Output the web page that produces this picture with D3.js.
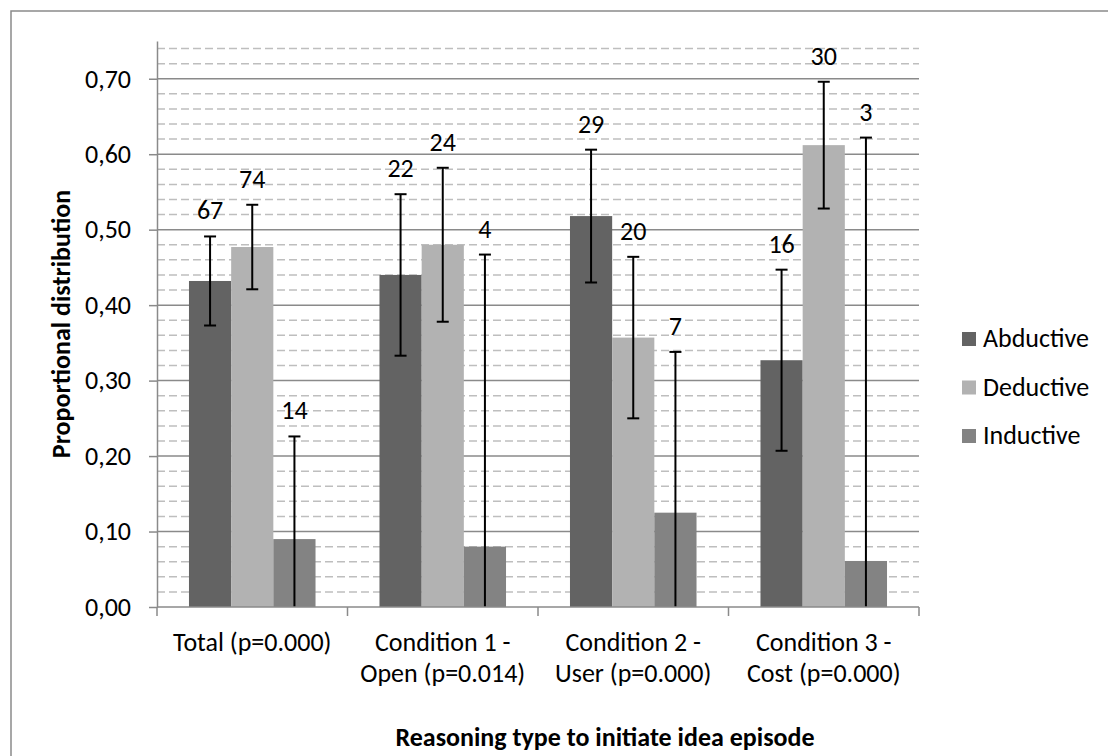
<!DOCTYPE html>
<html>
<head>
<meta charset="utf-8">
<script src="https://cdn.jsdelivr.net/npm/d3@7"></script>
<style>
  body { margin: 0; background: #fff; }
  svg text { font-family: Carlito, Lato, sans-serif; fill: #000; }
</style>
</head>
<body>
<div id="chart"></div>
<script>
// categories and series
let categories = [
  ["Total (p=0.000)"],
  ["Condition 1 -", "Open (p=0.014)"],
  ["Condition 2 -", "User (p=0.000)"],
  ["Condition 3 -", "Cost (p=0.000)"],
];
let seriesNames = ["Abductive", "Deductive", "Inductive"];
let seriesColors = ["#636363", "#b2b2b2", "#838383"];

// proportions per category
let abductive = [0.432, 0.44, 0.518, 0.327];
let deductive = [0.477, 0.48, 0.357, 0.612];
let inductive = [0.09, 0.08, 0.125, 0.061];

// half width of the error bars
let abductiveErr = [0.059, 0.107, 0.088, 0.12];
let deductiveErr = [0.056, 0.102, 0.107, 0.084];
let inductiveErr = [0.136, 0.387, 0.213, 0.561];

// counts shown above the bars
let abductiveN = [67, 22, 29, 16];
let deductiveN = [74, 24, 20, 30];
let inductiveN = [14, 4, 7, 3];

let yTicks = [0, 0.1, 0.2, 0.3, 0.4, 0.5, 0.6, 0.7];
let yMinor = [0.02, 0.04, 0.06, 0.08, 0.12, 0.14, 0.16, 0.18, 0.22, 0.24, 0.26, 0.28,
  0.32, 0.34, 0.36, 0.38, 0.42, 0.44, 0.46, 0.48, 0.52, 0.54, 0.56, 0.58,
  0.62, 0.64, 0.66, 0.68, 0.72, 0.74];

var w = 1108,
  h = 756;
var plotLeft = 157,
  plotRight = 919,
  plotTop = 41,
  plotBottom = 607;
var fs = "26px";

var values = [abductive, deductive, inductive];
var errs = [abductiveErr, deductiveErr, inductiveErr];
var counts = [abductiveN, deductiveN, inductiveN];

var svg = d3
  .select("#chart")
  .append("svg")
  .attr("width", w)
  .attr("height", h);

// chart border (runs off the right and bottom edge)
svg
  .append("rect")
  .attr("x", 11)
  .attr("y", 11)
  .attr("width", w + 20)
  .attr("height", h + 20)
  .attr("fill", "none")
  .attr("stroke", "#8a8a8a")
  .attr("stroke-width", 1.5);

var y = d3.scaleLinear().domain([0, 0.75]).range([plotBottom, plotTop]);

var x = d3
  .scaleBand()
  .domain(d3.range(categories.length))
  .range([plotLeft, plotRight]);

var xInner = d3
  .scaleBand()
  .domain(d3.range(seriesNames.length))
  .range([0, x.bandwidth()])
  .paddingOuter(0.758);

// gridlines
svg
  .append("g")
  .selectAll("line")
  .data(yMinor)
  .enter()
  .append("line")
  .attr("x1", plotLeft)
  .attr("x2", plotRight)
  .attr("y1", (d) => y(d))
  .attr("y2", (d) => y(d))
  .attr("stroke", "#bebebe")
  .attr("stroke-width", 1.5)
  .attr("stroke-dasharray", "8,4");

svg
  .append("g")
  .selectAll("line")
  .data(yTicks.slice(1))
  .enter()
  .append("line")
  .attr("x1", plotLeft)
  .attr("x2", plotRight)
  .attr("y1", (d) => y(d))
  .attr("y2", (d) => y(d))
  .attr("stroke", "#8a8a8a")
  .attr("stroke-width", 1.5);

// bars
var flat = [];
values.forEach(function (arr, s) {
  arr.forEach(function (v, c) {
    flat.push({ s: s, c: c, v: v, e: errs[s][c], n: counts[s][c] });
  });
});

svg
  .append("g")
  .selectAll("rect")
  .data(flat)
  .enter()
  .append("rect")
  .attr("x", (d) => x(d.c) + xInner(d.s))
  .attr("width", xInner.bandwidth())
  .attr("y", (d) => y(d.v))
  .attr("height", (d) => y(0) - y(d.v))
  .attr("fill", (d) => seriesColors[d.s]);

// error bars
var eb = svg.append("g").attr("stroke", "#000").attr("stroke-width", 2);
flat.forEach(function (d) {
  var cx = x(d.c) + xInner(d.s) + xInner.bandwidth() / 2;
  var hi = y(d.v + d.e);
  var lo = y(Math.max(0, d.v - d.e));
  eb.append("line").attr("x1", cx).attr("x2", cx).attr("y1", hi).attr("y2", lo);
  eb.append("line").attr("x1", cx - 6).attr("x2", cx + 6).attr("y1", hi).attr("y2", hi);
  if (d.v - d.e > 0) {
    eb.append("line").attr("x1", cx - 6).attr("x2", cx + 6).attr("y1", lo).attr("y2", lo);
  }
});

// count labels
svg
  .append("g")
  .selectAll("text")
  .data(flat)
  .enter()
  .append("text")
  .attr("x", (d) => x(d.c) + xInner(d.s) + xInner.bandwidth() / 2)
  .attr("y", (d) => y(d.v + d.e) - 17)
  .attr("text-anchor", "middle")
  .style("font-size", fs)
  .text((d) => d.n);

// y axis
var yAxis = d3
  .axisLeft(y)
  .tickValues(yTicks)
  .tickSize(8)
  .tickSizeOuter(0)
  .tickPadding(18)
  .tickFormat((d) => d.toFixed(2).replace(".", ","));

var gy = svg
  .append("g")
  .attr("transform", "translate(" + plotLeft + ",0)")
  .call(yAxis);
gy.select(".domain").attr("stroke", "#8a8a8a").attr("stroke-width", 1.5);
gy.selectAll(".tick line").attr("stroke", "#8a8a8a").attr("stroke-width", 1.5);
gy.selectAll(".tick text")
  .style("font-size", fs)
  .style("font-family", "Carlito, Lato, sans-serif")
  .attr("fill", "#000");

// x axis line and ticks at band edges
svg
  .append("line")
  .attr("x1", plotLeft)
  .attr("x2", plotRight)
  .attr("y1", plotBottom)
  .attr("y2", plotBottom)
  .attr("stroke", "#8a8a8a")
  .attr("stroke-width", 1.5);

svg
  .append("g")
  .selectAll("line")
  .data(d3.range(categories.length + 1))
  .enter()
  .append("line")
  .attr("x1", (d) => plotLeft + d * x.step())
  .attr("x2", (d) => plotLeft + d * x.step())
  .attr("y1", plotBottom)
  .attr("y2", plotBottom + 9)
  .attr("stroke", "#8a8a8a")
  .attr("stroke-width", 1.5);

var catText = svg
  .append("g")
  .selectAll("text")
  .data(categories)
  .enter()
  .append("text")
  .attr("text-anchor", "middle")
  .style("font-size", fs);

catText
  .selectAll("tspan")
  .data((d, i) => d.map((t) => ({ t: t, i: i })))
  .enter()
  .append("tspan")
  .attr("x", (d) => x(d.i) + x.bandwidth() / 2)
  .attr("y", (d, j) => 651 + j * 31)
  .text((d) => d.t);

// axis titles
svg
  .append("text")
  .attr("transform", "translate(70," + (plotTop + plotBottom) / 2 + ") rotate(-90)")
  .attr("text-anchor", "middle")
  .style("font-size", fs)
  .style("font-weight", "bold")
  .text("Proportional distribution");

svg
  .append("text")
  .attr("x", 605)
  .attr("y", 746)
  .attr("text-anchor", "middle")
  .style("font-size", fs)
  .style("font-weight", "bold")
  .text("Reasoning type to initiate idea episode");

// legend
let legend = svg.append("g").attr("id", "legend");
legend
  .selectAll("rect")
  .data(seriesNames)
  .enter()
  .append("rect")
  .attr("x", 962)
  .attr("y", (d, i) => 332 + i * 48.5)
  .attr("width", 14)
  .attr("height", 14)
  .attr("fill", (d, i) => seriesColors[i]);

legend
  .selectAll("text")
  .data(seriesNames)
  .enter()
  .append("text")
  .attr("x", 983)
  .attr("y", (d, i) => 347 + i * 48.5)
  .style("font-size", fs)
  .text((d) => d);
</script>
</body>
</html>
